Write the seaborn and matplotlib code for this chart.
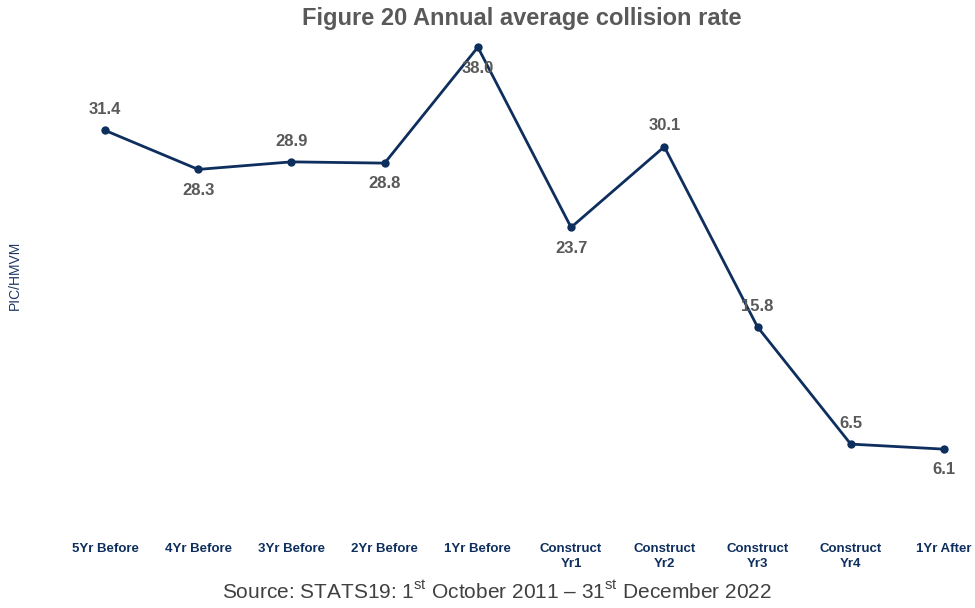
import pandas as pd
import matplotlib.pyplot as plt
import seaborn as sns

# Data
periods = ['5Yr Before', '4Yr Before', '3Yr Before', '2Yr Before', '1Yr Before',
           'Construct\nYr1', 'Construct\nYr2', 'Construct\nYr3', 'Construct\nYr4', '1Yr After']
rates = [31.4, 28.3, 28.9, 28.8, 38.0, 23.7, 30.1, 15.8, 6.5, 6.1]
label_side = ['above', 'below', 'above', 'below', 'below',
              'below', 'above', 'above', 'above', 'below']

df = pd.DataFrame({'period': periods, 'rate': rates})

sns.set_style('white')
plt.rcParams['font.family'] = ['Liberation Sans', 'DejaVu Sans']
plt.rcParams['mathtext.fontset'] = 'custom'
plt.rcParams['mathtext.rm'] = 'Liberation Sans'

line_col = '#0E2F5E'
grey = '#595959'

fig = plt.figure(figsize=(9.75, 6.08), dpi=100)
ax = fig.add_axes([58 / 975, (608 - 526) / 608, 917 / 975, 504 / 608])

sns.lineplot(data=df, x='period', y='rate', sort=False, ax=ax, color=line_col,
             linewidth=2.0, marker='o', markersize=6, markeredgewidth=0)

ax.set_xlim(-0.504, 9.333)
ax.set_ylim(0, 40)
ax.set_yticks([])
ax.set_xlabel('')
ax.set_ylabel('')
for s in ax.spines.values():
    s.set_visible(False)

ax.tick_params(axis='x', length=0, pad=12, labelsize=9.5, labelcolor='#0E2F5E')
for t in ax.get_xticklabels():
    t.set_fontweight('bold')
    t.set_linespacing(1.35)
    t.set_verticalalignment('top')

# value labels
for i, (v, side) in enumerate(zip(rates, label_side)):
    off = 15 if side == 'above' else -15
    ax.annotate(f'{v:.1f}', (i, v), xytext=(0, off), textcoords='offset points',
                ha='center', va='center', fontsize=12, fontweight='bold', color=grey)

fig.text(522 / 975, 1 - 18 / 608, 'Figure 20 Annual average collision rate', ha='center', va='center',
         fontsize=17, fontweight='bold', color=grey)
fig.text(15 / 975, 1 - 275 / 608, 'PIC/HMVM', rotation=90, ha='center', va='center',
         fontsize=10, color='#1F3864')
fig.text(497 / 975, 1 - 592 / 608,
         r'Source: STATS19: 1$^{\mathrm{st}}$ October 2011 – 31$^{\mathrm{st}}$ December 2022',
         ha='center', va='center', fontsize=15, color='#404040')

fig.savefig('out.png', dpi=100)
